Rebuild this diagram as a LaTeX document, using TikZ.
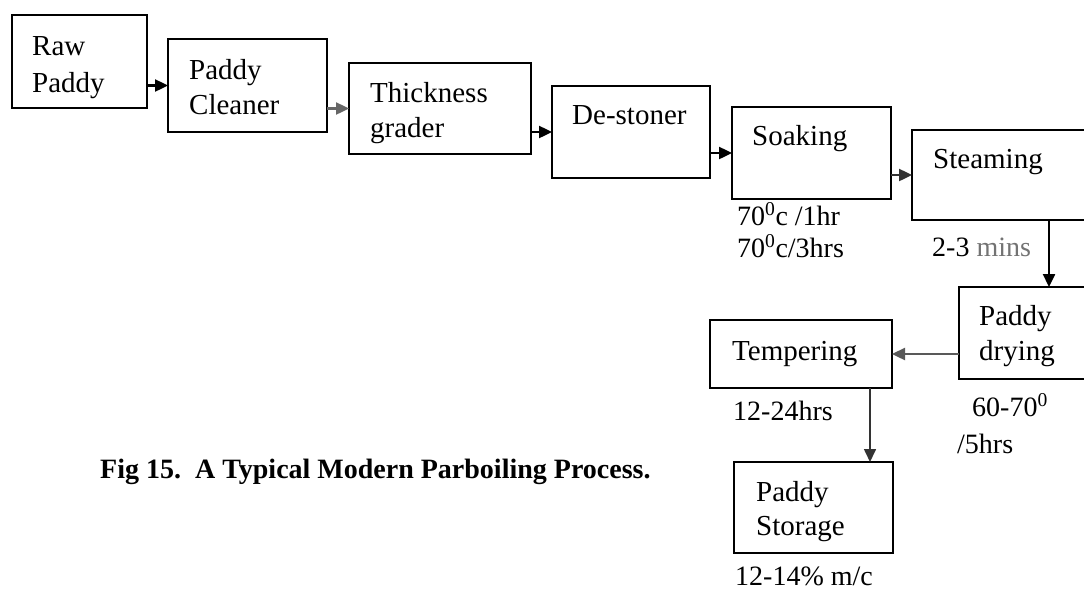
\documentclass[tikz,border=0pt]{standalone}
\usepackage{fontspec}
\setmainfont{Liberation Serif}
\usetikzlibrary{arrows.meta,calc}
\tikzset{
  box/.style={draw=black, line width=2.2pt, inner sep=0pt, outer sep=0pt, anchor=north west},
  txt/.style={anchor=base west, inner sep=0pt, font=\fontsize{29}{35}\selectfont},
  lbl/.style={anchor=base west, inner sep=0pt, font=\fontsize{28}{34}\selectfont},
  arr/.style={line width=2.4pt, -{Triangle[length=13pt,width=12pt]}},
}
\begin{document}
\begin{tikzpicture}[x=1pt,y=-1pt]
\useasboundingbox (0,0) rectangle (1084,592);
\clip (0,0) rectangle (1084,592);
\fill[white] (0,0) rectangle (1084,592);
% boxes
\node[box, minimum width=135pt, minimum height=93pt] (raw) at (12,15) {};
\node[box, minimum width=159pt, minimum height=93pt] (cleaner) at (168,39) {};
\node[box, minimum width=182pt, minimum height=91pt] (grader) at (349,63) {};
\node[box, minimum width=158pt, minimum height=92pt] (destoner) at (552,86) {};
\node[box, minimum width=159pt, minimum height=92pt] (soaking) at (732,107) {};
\node[box, minimum width=200pt, minimum height=90pt] (steaming) at (912,130) {};
\node[box, minimum width=180pt, minimum height=92pt] (drying) at (959,287) {};
\node[box, minimum width=182pt, minimum height=68pt] (tempering) at (710,320) {};
\node[box, minimum width=159pt, minimum height=91pt] (storage) at (734,462) {};
% texts in boxes
\node[txt] (rawA) at (32,55) {Raw};
\node[txt] (rawB) at (32,92) {Paddy};
\node[txt] (clA) at (189,79) {Paddy};
\node[txt] (clB) at (189,114) {Cleaner};
\node[txt] (grA) at (370,102) {Thickness};
\node[txt] (grB) at (370,137) {grader};
\node[txt] (deA) at (572,124) {De-stoner};
\node[txt] (soA) at (752,145) {Soaking};
\node[txt] (stA) at (933,168) {Steaming};
\node[txt] (drA) at (979,325) {Paddy};
\node[txt] (drB) at (979,360) {drying};
\node[txt] (teA) at (732,360) {Tempering};
\node[txt] (stoA) at (756,501) {Paddy};
\node[txt] (stoB) at (756,535) {Storage};
% labels
\node[lbl] (l1) at (737,225) {70\textsuperscript{0}c /1hr};
\node[lbl] (l2) at (737,257) {70\textsuperscript{0}c/3hrs};
\node[lbl] (l3) at (932,256) {2-3 {\color{black!55}mins}};
\node[lbl] (l4) at (733,420) {12-24hrs};
\node[lbl] (l5) at (972,416) {60-70\textsuperscript{0}};
\node[lbl] (l6) at (957,453) {/5hrs};
\node[lbl] (l7) at (735,585) {12-14\% m/c};
\node[anchor=base west, inner sep=0pt, font=\fontsize{28}{34}\selectfont\bfseries] (cap) at (100,478) {Fig 15.\ \ A Typical Modern Parboiling Process.};
% connectors
\draw[arr] (raw.east |- cleaner.west) -- (cleaner.west);
\draw[arr, black!60] (cleaner.east |- grader.west) -- (grader.west);
\draw[arr] (grader.east |- destoner.west) -- (destoner.west);
\draw[arr] (destoner.east |- soaking.west) -- (soaking.west);
\draw[arr, black!80] (soaking.east |- steaming.west) -- (steaming.west);
\draw[arr] (steaming.south -| drying.north) -- (drying.north);
\draw[arr, black!65] (drying.west |- tempering.east) -- (tempering.east);
\coordinate (ts) at ($(tempering.south east)+(-22,0)$);
\draw[arr, line width=1.6pt, black!80] (ts) -- (ts |- storage.north);
\end{tikzpicture}
\end{document}
